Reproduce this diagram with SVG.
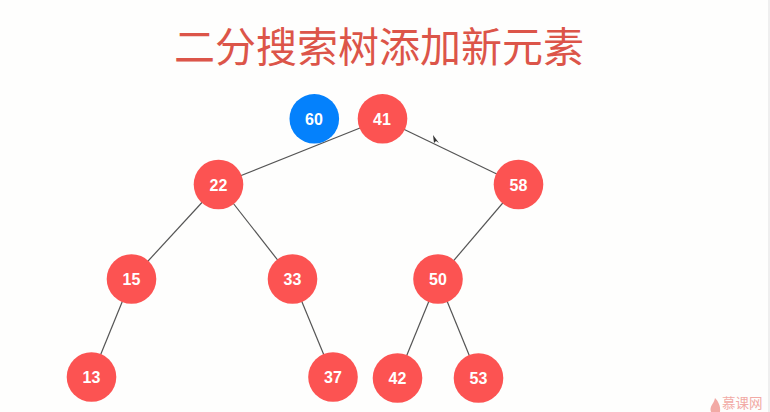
<svg xmlns="http://www.w3.org/2000/svg" width="770" height="412" viewBox="0 0 770 412">
<style>
.n{fill:#fc5352}
.b{fill:#0481fc}
.t{font-family:"Liberation Sans",Arial,sans-serif;font-size:16px;font-weight:700;fill:#fff;text-anchor:middle}
.c line{stroke:#555;stroke-width:1.2}
</style>
<rect width="770" height="412" fill="#fefefd"/>
<rect x="768" y="0" width="2" height="412" fill="#efefef"/>
<text x="379" y="62" text-anchor="middle" font-family="'Noto Sans CJK SC','Noto Sans',sans-serif" font-size="41" fill="#dc5549">二分搜索树添加新元素</text>
<g class="c" id="connectors">
<line x1="382.500" y1="119" x2="218.500" y2="184.500"/>
<line x1="382.500" y1="119" x2="518.500" y2="184.500"/>
<line x1="218.500" y1="184.500" x2="131.500" y2="279"/>
<line x1="218.500" y1="184.500" x2="292.500" y2="279"/>
<line x1="518.500" y1="184.500" x2="438" y2="279"/>
<line x1="131.500" y1="279" x2="91.500" y2="377"/>
<line x1="292.500" y1="279" x2="333" y2="377"/>
<line x1="438" y1="279" x2="397.500" y2="378"/>
<line x1="438" y1="279" x2="478.500" y2="378"/>
</g>
<g id="n60"><circle class="b" cx="314.300" cy="118.800" r="24.800"/><text class="t" x="314" y="125">60</text></g>
<g id="n41"><circle class="n" cx="382.500" cy="118.800" r="24.800"/><text class="t" x="382" y="125">41</text></g>
<g id="n22"><circle class="n" cx="218.500" cy="184.500" r="24.800"/><text class="t" x="218.500" y="190.500">22</text></g>
<g id="n58"><circle class="n" cx="518.500" cy="184.500" r="24.800"/><text class="t" x="518.500" y="190.500">58</text></g>
<g id="n15"><circle class="n" cx="131.500" cy="279" r="24.800"/><text class="t" x="131.500" y="285">15</text></g>
<g id="n33"><circle class="n" cx="292.500" cy="279" r="24.800"/><text class="t" x="292.500" y="285">33</text></g>
<g id="n50"><circle class="n" cx="438" cy="279" r="24.800"/><text class="t" x="438" y="285">50</text></g>
<g id="n13"><circle class="n" cx="91.500" cy="377" r="24.800"/><text class="t" x="91.500" y="383">13</text></g>
<g id="n37"><circle class="n" cx="333" cy="377" r="24.800"/><text class="t" x="333" y="383">37</text></g>
<g id="n42"><circle class="n" cx="397.500" cy="378" r="24.800"/><text class="t" x="397.500" y="384">42</text></g>
<g id="n53"><circle class="n" cx="478.500" cy="378" r="24.800"/><text class="t" x="478.500" y="384">53</text></g>
<path d="M433 135l1 8 2-2 3 2z" fill="#333"/>
<path d="M711 412c-2-6 3-8 4-14 3 3 6 8 5 14z" fill="#f2aaa5"/>
<text x="722" y="408" font-family="'Noto Sans CJK SC',sans-serif" font-size="13.500" fill="#f2aaa5">慕课网</text>
</svg>
